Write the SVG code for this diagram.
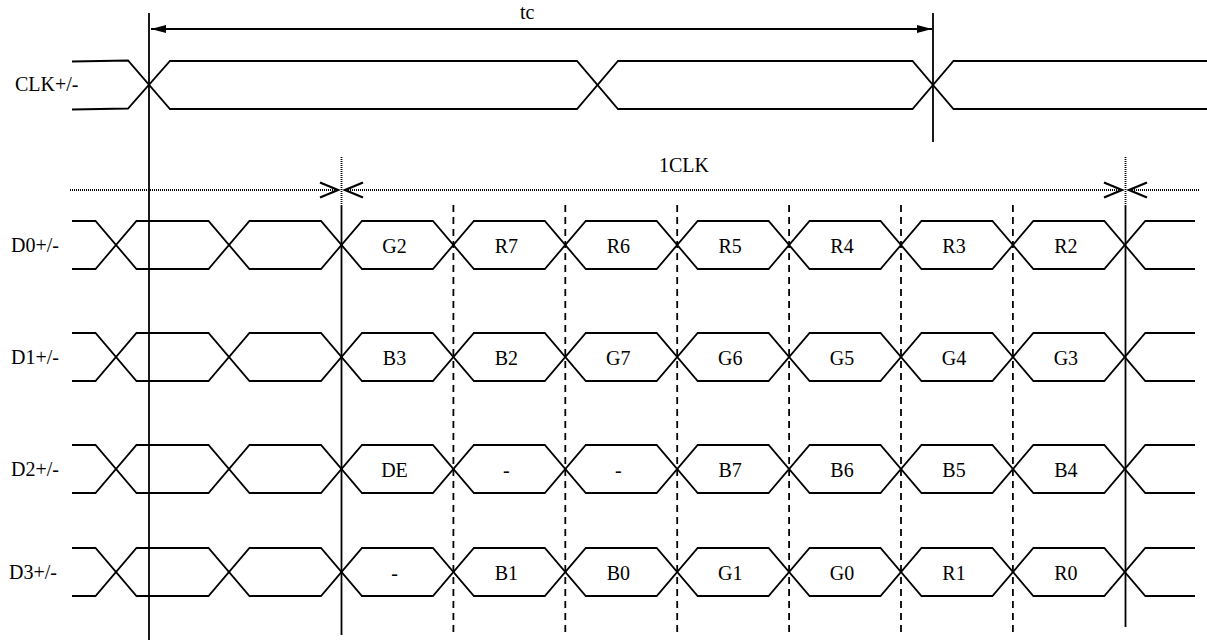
<svg xmlns="http://www.w3.org/2000/svg" width="1207" height="640" viewBox="0 0 1207 640">
<style>
.w{fill:none;stroke:#000;stroke-width:1.8;stroke-linejoin:miter}
.v{fill:none;stroke:#000;stroke-width:1.8}
.dash{fill:none;stroke:#000;stroke-width:1.8;stroke-dasharray:7,5}
.dot{fill:none;stroke:#000;stroke-width:1.8;stroke-dasharray:1,1}
.chev{fill:none;stroke:#000;stroke-width:2.2}
.t{font-family:"Liberation Serif","Times New Roman",serif;font-size:20px;fill:#000}
.c{text-anchor:middle}
</style>
<defs>
<marker id="ah" viewBox="0 0 15 8" refX="15" refY="4" markerWidth="15" markerHeight="8" markerUnits="userSpaceOnUse" orient="auto-start-reverse">
<path d="M0,0 L15,4 L0,8 Z" fill="#000"/>
</marker>
<path id="waveA" d="M72,0 H95.5 L136.5,48 H208.5 L249.5,0 H321 L362,48 H432.9 L473.9,0 H544.8 L585.8,48 H656.7 L697.7,0 H768.6 L809.6,48 H880.5 L921.5,0 H992.4 L1033.4,48 H1104.3 L1145.3,0 H1195"/>
<path id="waveB" d="M72,48 H95.5 L136.5,0 H208.5 L249.5,48 H321 L362,0 H432.9 L473.9,48 H544.8 L585.8,0 H656.7 L697.7,48 H768.6 L809.6,0 H880.5 L921.5,48 H992.4 L1033.4,0 H1104.3 L1145.3,48 H1195"/>
</defs>

<g id="clk">
<path class="w" d="M72,61.5 L128,60.5 L170,109 H577 L618,61 H912.5 L953.5,109 H1207"/>
<path class="w" d="M72,109.5 L128,108.5 L170,61 H577 L618,109 H912.5 L953.5,61 H1207"/>
<text class="t" x="15" y="91" font-family="Liberation Serif, serif" font-size="20">CLK+/-</text>
</g>

<g id="d0" transform="translate(0,221)" font-family="Liberation Serif, serif" font-size="20">
<use href="#waveA" class="w"/><use href="#waveB" class="w"/>
<text class="t" x="11" y="31">D0+/-</text>
<text class="t c" x="394.5" y="32">G2</text>
<text class="t c" x="506.4" y="32">R7</text>
<text class="t c" x="618.3" y="32">R6</text>
<text class="t c" x="730.2" y="32">R5</text>
<text class="t c" x="842" y="32">R4</text>
<text class="t c" x="954" y="32">R3</text>
<text class="t c" x="1065.9" y="32">R2</text>
</g>

<g id="d1" transform="translate(0,333)" font-family="Liberation Serif, serif" font-size="20">
<use href="#waveA" class="w"/><use href="#waveB" class="w"/>
<text class="t" x="11" y="31">D1+/-</text>
<text class="t c" x="394.5" y="32">B3</text>
<text class="t c" x="506.4" y="32">B2</text>
<text class="t c" x="618.3" y="32">G7</text>
<text class="t c" x="730.2" y="32">G6</text>
<text class="t c" x="842" y="32">G5</text>
<text class="t c" x="954" y="32">G4</text>
<text class="t c" x="1065.9" y="32">G3</text>
</g>

<g id="d2" transform="translate(0,445)" font-family="Liberation Serif, serif" font-size="20">
<use href="#waveA" class="w"/><use href="#waveB" class="w"/>
<text class="t" x="11" y="31">D2+/-</text>
<text class="t c" x="394.5" y="32">DE</text>
<text class="t c" x="506.4" y="32">-</text>
<text class="t c" x="618.3" y="32">-</text>
<text class="t c" x="730.2" y="32">B7</text>
<text class="t c" x="842" y="32">B6</text>
<text class="t c" x="954" y="32">B5</text>
<text class="t c" x="1065.9" y="32">B4</text>
</g>

<g id="d3" transform="translate(0,548)" font-family="Liberation Serif, serif" font-size="20">
<use href="#waveA" class="w"/><use href="#waveB" class="w"/>
<text class="t" x="9" y="31">D3+/-</text>
<text class="t c" x="394.5" y="32">-</text>
<text class="t c" x="506.4" y="32">B1</text>
<text class="t c" x="618.3" y="32">B0</text>
<text class="t c" x="730.2" y="32">G1</text>
<text class="t c" x="842" y="32">G0</text>
<text class="t c" x="954" y="32">R1</text>
<text class="t c" x="1065.9" y="32">R0</text>
</g>

<g id="connectors">
<line class="v" x1="149" y1="13" x2="149" y2="640"/>
<line class="v" x1="933" y1="13" x2="933" y2="142"/>
<line class="dot" x1="341.5" y1="157" x2="341.5" y2="205"/>
<line class="v" x1="341.5" y1="205" x2="341.5" y2="635"/>
<line class="dot" x1="1125.5" y1="157" x2="1125.5" y2="205"/>
<line class="v" x1="1125.5" y1="205" x2="1125.5" y2="627"/>
<line class="dash" x1="453.4" y1="205" x2="453.4" y2="633"/>
<line class="dash" x1="565.3" y1="205" x2="565.3" y2="633"/>
<line class="dash" x1="677.2" y1="205" x2="677.2" y2="633"/>
<line class="dash" x1="789.1" y1="205" x2="789.1" y2="633"/>
<line class="dash" x1="901" y1="205" x2="901" y2="633"/>
<line class="dash" x1="1012.9" y1="205" x2="1012.9" y2="633"/>
<line class="v" x1="151" y1="29" x2="932" y2="29" marker-start="url(#ah)" marker-end="url(#ah)"/>
<text class="t" x="520" y="19" font-family="Liberation Serif, serif" font-size="20">tc</text>
<line class="dot" x1="70" y1="190" x2="337" y2="190"/>
<polyline class="chev" points="320,182.5 338,190 320,197.5"/>
<line class="dot" x1="346" y1="190" x2="1121" y2="190"/>
<polyline class="chev" points="363,182.5 345,190 363,197.5"/>
<polyline class="chev" points="1104,182.5 1122,190 1104,197.5"/>
<line class="dot" x1="1130" y1="190" x2="1200" y2="190"/>
<polyline class="chev" points="1147,182.5 1129,190 1147,197.5"/>
<text class="t" x="659" y="172" font-family="Liberation Serif, serif" font-size="20">1CLK</text>
</g>
</svg>
